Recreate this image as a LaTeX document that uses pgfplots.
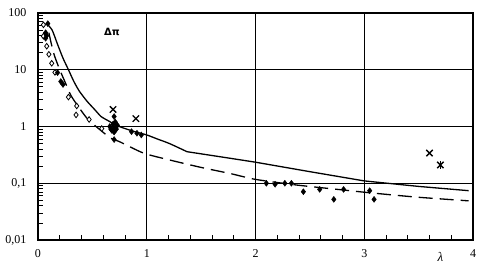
\documentclass[border=0pt]{standalone}
\usepackage{pgfplots}
\pgfplotsset{compat=1.18}
\usepackage{fontspec}
\setmainfont{Liberation Serif}
\newfontfamily\sansb{DejaVu Sans}
\begin{document}
\begin{tikzpicture}
\begin{axis}[
  scale only axis, width=435pt, height=227pt,
  at={(0,0)}, anchor=south west,
  ymode=log, xmin=0, xmax=4, ymin=0.01, ymax=100,
  xtick={0,1,2,3,4}, xticklabels={0,1,2,3,4},
  ytick={0.01,0.1,1,10,100}, yticklabels={{0,01},{0,1},1,10,100},
  minor xtick={0.2,0.4,0.6,0.8,1.2,1.4,1.6,1.8,2.2,2.4,2.6,2.8,3.2,3.4,3.6,3.8},
  minor ytick={0.02,0.03,0.04,0.05,0.06,0.07,0.08,0.09,0.2,0.3,0.4,0.5,0.6,0.7,0.8,0.9,2,3,4,5,6,7,8,9,20,30,40,50,60,70,80,90},
  grid=major, major grid style={black, line width=1.2pt},
  axis line style={line width=1.2pt},
  tick align=inside, xtick pos=left, ytick pos=left,
  major tick length=0pt, minor tick length=5pt,
  minor tick style={black, line width=0.8pt},
  ticklabel style={font=\fontsize{12}{14}\selectfont},
  /pgf/number format/assume math mode=true,
  yticklabel style={xshift=-8pt},
  xticklabel style={yshift=-6pt},
  clip=false,
]
% solid curve
\addplot[black, line width=1.3pt, smooth, tension=0.4] coordinates {
(0.08,65)(0.13,50)(0.18,28)(0.23,16)(0.28,10)(0.33,6.2)(0.38,4.2)(0.45,2.8)(0.52,2.0)(0.58,1.5)(0.65,1.25)(0.72,1.05)(0.8,0.92)(0.9,0.8)(1.0,0.71)(1.1,0.6)(1.21,0.5)(1.37,0.36)};
\addplot[black, line width=1.3pt] coordinates {
(1.37,0.36)(1.77,0.275)(2.0,0.235)(2.5,0.16)(3.0,0.11)(3.5,0.088)(3.96,0.074)};
% dashed curve
\addplot[black, line width=1.3pt, dash pattern=on 14pt off 7pt, smooth, tension=0.4] coordinates {
(0.1,45)(0.12,30)(0.15,18)(0.2,10)(0.25,6)(0.3,3.6)(0.36,2.4)(0.45,1.4)(0.545,0.96)(0.67,0.62)(0.75,0.54)(0.97,0.34)(1.2,0.26)(1.5,0.19)(1.77,0.148)(2.0,0.117)(2.38,0.093)(2.81,0.076)(3.05,0.068)(3.48,0.057)(3.96,0.049)};
% open diamonds
\addplot[only marks, mark=diamond*, mark size=2.8pt, mark options={fill=white, draw=black, line width=0.8pt}] coordinates {
(0.05,62)(0.05,39)(0.08,26)(0.10,18.7)(0.126,13)(0.156,9)(0.28,3.3)(0.356,2.3)(0.35,1.6)(0.47,1.33)(0.586,0.92)};
% filled diamonds
\addplot[only marks, mark=diamond*, mark size=3pt, black] coordinates {
(0.09,65)(0.07,45)(0.08,40)(0.07,36)(0.18,8.9)(0.21,6.2)(0.23,5.5)
(0.66,1.0)(0.68,0.85)(0.69,1.1)(0.70,0.95)(0.71,1.2)(0.72,0.9)(0.70,0.8)(0.73,1.05)(0.67,0.9)(0.70,1.5)
(0.86,0.81)(0.91,0.76)(0.95,0.71)(0.70,0.59)
(2.10,0.10)(2.18,0.096)(2.27,0.10)(2.33,0.10)(2.44,0.071)(2.59,0.078)(2.72,0.052)(2.81,0.078)(3.05,0.074)(3.09,0.052)};
% crosses
\addplot[only marks, mark=x, mark size=4.5pt, black, line width=1.3pt] coordinates {
(0.69,2.0)(0.90,1.38)(3.60,0.34)(3.70,0.21)};
\addplot[only marks, mark=|, mark size=4pt, black, line width=1.3pt] coordinates {(3.70,0.21)};
\node[font=\sansb\bfseries\fontsize{10}{12}\selectfont] at (axis cs:0.68,46) {Δπ};
\node[font=\itshape\fontsize{13}{15}\selectfont] at (axis cs:3.70,0.01) [yshift=-17pt] {λ};
\end{axis}
\pgfresetboundingbox
\path (current axis.south west) ++(-38pt,-29pt) rectangle ++(484pt,269pt);
\end{tikzpicture}
\end{document}
